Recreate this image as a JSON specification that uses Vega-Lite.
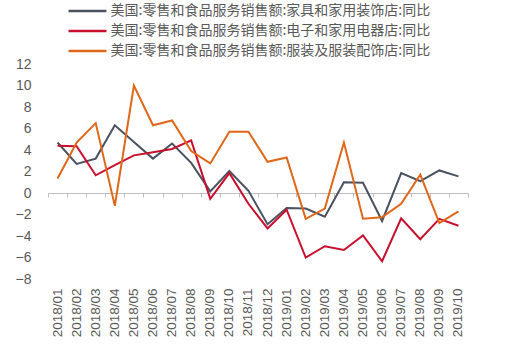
{
  "$schema": "https://vega.github.io/schema/vega-lite/v6.json",
  "width": 420,
  "height": 215,
  "autosize": {"type": "none"},
  "padding": {"left": 48, "top": 64, "right": 38, "bottom": 72},
  "background": "white",
  "config": {
    "view": {"stroke": null},
    "font": "Liberation Sans",
    "axis": {"labelFont": "Liberation Sans", "labelColor": "#595959", "labelFontSize": 14}
  },
  "data": {"values": [
    {"month":"2018/01","series":"美国:零售和食品服务销售额:家具和家用装饰店:同比","value":4.7},
    {"month":"2018/02","series":"美国:零售和食品服务销售额:家具和家用装饰店:同比","value":2.7},
    {"month":"2018/03","series":"美国:零售和食品服务销售额:家具和家用装饰店:同比","value":3.2},
    {"month":"2018/04","series":"美国:零售和食品服务销售额:家具和家用装饰店:同比","value":6.3},
    {"month":"2018/05","series":"美国:零售和食品服务销售额:家具和家用装饰店:同比","value":4.75},
    {"month":"2018/06","series":"美国:零售和食品服务销售额:家具和家用装饰店:同比","value":3.2},
    {"month":"2018/07","series":"美国:零售和食品服务销售额:家具和家用装饰店:同比","value":4.6},
    {"month":"2018/08","series":"美国:零售和食品服务销售额:家具和家用装饰店:同比","value":2.8},
    {"month":"2018/09","series":"美国:零售和食品服务销售额:家具和家用装饰店:同比","value":0.15},
    {"month":"2018/10","series":"美国:零售和食品服务销售额:家具和家用装饰店:同比","value":2.05},
    {"month":"2018/11","series":"美国:零售和食品服务销售额:家具和家用装饰店:同比","value":0.2},
    {"month":"2018/12","series":"美国:零售和食品服务销售额:家具和家用装饰店:同比","value":-2.9},
    {"month":"2019/01","series":"美国:零售和食品服务销售额:家具和家用装饰店:同比","value":-1.4},
    {"month":"2019/02","series":"美国:零售和食品服务销售额:家具和家用装饰店:同比","value":-1.45},
    {"month":"2019/03","series":"美国:零售和食品服务销售额:家具和家用装饰店:同比","value":-2.2},
    {"month":"2019/04","series":"美国:零售和食品服务销售额:家具和家用装饰店:同比","value":1.0},
    {"month":"2019/05","series":"美国:零售和食品服务销售额:家具和家用装饰店:同比","value":0.95},
    {"month":"2019/06","series":"美国:零售和食品服务销售额:家具和家用装饰店:同比","value":-2.6},
    {"month":"2019/07","series":"美国:零售和食品服务销售额:家具和家用装饰店:同比","value":1.85},
    {"month":"2019/08","series":"美国:零售和食品服务销售额:家具和家用装饰店:同比","value":1.1},
    {"month":"2019/09","series":"美国:零售和食品服务销售额:家具和家用装饰店:同比","value":2.1},
    {"month":"2019/10","series":"美国:零售和食品服务销售额:家具和家用装饰店:同比","value":1.55},
    {"month":"2018/01","series":"美国:零售和食品服务销售额:电子和家用电器店:同比","value":4.4},
    {"month":"2018/02","series":"美国:零售和食品服务销售额:电子和家用电器店:同比","value":4.35},
    {"month":"2018/03","series":"美国:零售和食品服务销售额:电子和家用电器店:同比","value":1.65},
    {"month":"2018/04","series":"美国:零售和食品服务销售额:电子和家用电器店:同比","value":2.6},
    {"month":"2018/05","series":"美国:零售和食品服务销售额:电子和家用电器店:同比","value":3.5},
    {"month":"2018/06","series":"美国:零售和食品服务销售额:电子和家用电器店:同比","value":3.8},
    {"month":"2018/07","series":"美国:零售和食品服务销售额:电子和家用电器店:同比","value":4.1},
    {"month":"2018/08","series":"美国:零售和食品服务销售额:电子和家用电器店:同比","value":4.9},
    {"month":"2018/09","series":"美国:零售和食品服务销售额:电子和家用电器店:同比","value":-0.55},
    {"month":"2018/10","series":"美国:零售和食品服务销售额:电子和家用电器店:同比","value":1.85},
    {"month":"2018/11","series":"美国:零售和食品服务销售额:电子和家用电器店:同比","value":-1.0},
    {"month":"2018/12","series":"美国:零售和食品服务销售额:电子和家用电器店:同比","value":-3.3},
    {"month":"2019/01","series":"美国:零售和食品服务销售额:电子和家用电器店:同比","value":-1.55},
    {"month":"2019/02","series":"美国:零售和食品服务销售额:电子和家用电器店:同比","value":-6.0},
    {"month":"2019/03","series":"美国:零售和食品服务销售额:电子和家用电器店:同比","value":-4.95},
    {"month":"2019/04","series":"美国:零售和食品服务销售额:电子和家用电器店:同比","value":-5.3},
    {"month":"2019/05","series":"美国:零售和食品服务销售额:电子和家用电器店:同比","value":-3.95},
    {"month":"2019/06","series":"美国:零售和食品服务销售额:电子和家用电器店:同比","value":-6.35},
    {"month":"2019/07","series":"美国:零售和食品服务销售额:电子和家用电器店:同比","value":-2.35},
    {"month":"2019/08","series":"美国:零售和食品服务销售额:电子和家用电器店:同比","value":-4.3},
    {"month":"2019/09","series":"美国:零售和食品服务销售额:电子和家用电器店:同比","value":-2.4},
    {"month":"2019/10","series":"美国:零售和食品服务销售额:电子和家用电器店:同比","value":-3.05},
    {"month":"2018/01","series":"美国:零售和食品服务销售额:服装及服装配饰店:同比","value":1.35},
    {"month":"2018/02","series":"美国:零售和食品服务销售额:服装及服装配饰店:同比","value":4.7},
    {"month":"2018/03","series":"美国:零售和食品服务销售额:服装及服装配饰店:同比","value":6.5},
    {"month":"2018/04","series":"美国:零售和食品服务销售额:服装及服装配饰店:同比","value":-1.2},
    {"month":"2018/05","series":"美国:零售和食品服务销售额:服装及服装配饰店:同比","value":10.0},
    {"month":"2018/06","series":"美国:零售和食品服务销售额:服装及服装配饰店:同比","value":6.3},
    {"month":"2018/07","series":"美国:零售和食品服务销售额:服装及服装配饰店:同比","value":6.75},
    {"month":"2018/08","series":"美国:零售和食品服务销售额:服装及服装配饰店:同比","value":3.9},
    {"month":"2018/09","series":"美国:零售和食品服务销售额:服装及服装配饰店:同比","value":2.75},
    {"month":"2018/10","series":"美国:零售和食品服务销售额:服装及服装配饰店:同比","value":5.7},
    {"month":"2018/11","series":"美国:零售和食品服务销售额:服装及服装配饰店:同比","value":5.7},
    {"month":"2018/12","series":"美国:零售和食品服务销售额:服装及服装配饰店:同比","value":2.9},
    {"month":"2019/01","series":"美国:零售和食品服务销售额:服装及服装配饰店:同比","value":3.3},
    {"month":"2019/02","series":"美国:零售和食品服务销售额:服装及服装配饰店:同比","value":-2.4},
    {"month":"2019/03","series":"美国:零售和食品服务销售额:服装及服装配饰店:同比","value":-1.45},
    {"month":"2019/04","series":"美国:零售和食品服务销售额:服装及服装配饰店:同比","value":4.7},
    {"month":"2019/05","series":"美国:零售和食品服务销售额:服装及服装配饰店:同比","value":-2.4},
    {"month":"2019/06","series":"美国:零售和食品服务销售额:服装及服装配饰店:同比","value":-2.25},
    {"month":"2019/07","series":"美国:零售和食品服务销售额:服装及服装配饰店:同比","value":-1.0},
    {"month":"2019/08","series":"美国:零售和食品服务销售额:服装及服装配饰店:同比","value":1.7},
    {"month":"2019/09","series":"美国:零售和食品服务销售额:服装及服装配饰店:同比","value":-2.8},
    {"month":"2019/10","series":"美国:零售和食品服务销售额:服装及服装配饰店:同比","value":-1.7}
  ]},
  "encoding": {
    "y": {"field": "value", "type": "quantitative",
      "scale": {"domain": [-8, 12], "nice": false, "zero": false},
      "axis": {"title": null, "domain": false, "ticks": false, "grid": false,
        "values": [-8,-6,-4,-2,0,2,4,6,8,10,12], "labelPadding": 17}}
  },
  "layer": [
    {
      "mark": {"type": "line", "strokeWidth": 2},
      "encoding": {
        "x": {"field": "month", "type": "ordinal",
          "scale": {"type": "band", "paddingInner": 0, "paddingOuter": 0},
          "axis": {"title": null, "orient": "bottom", "domain": true, "domainColor": "#bdbdbd", "domainWidth": 1,
            "ticks": true, "tickColor": "#bdbdbd", "tickSize": 4, "tickBand": "extent",
            "labels": false, "offset": -86}},
        "color": {"field": "series", "type": "nominal",
          "scale": {"domain": [
            "美国:零售和食品服务销售额:家具和家用装饰店:同比",
            "美国:零售和食品服务销售额:电子和家用电器店:同比",
            "美国:零售和食品服务销售额:服装及服装配饰店:同比"],
            "range": ["#4a5260", "#c8102e", "#e0661a"]},
          "legend": {"title": null, "orient": "none", "legendX": 30.5, "legendY": -62,
            "symbolType": "M-2.53,0H2.53", "symbolSize": 225, "symbolStrokeWidth": 2.5,
            "labelFont": "Noto Sans CJK SC", "labelFontSize": 14, "labelColor": "#595959",
            "labelOffset": 14, "rowPadding": 4, "labelLimit": 500}}
      }
    },
    {
      "mark": {"type": "point", "opacity": 0},
      "encoding": {
        "x": {"field": "month", "type": "ordinal",
          "axis": {"title": null, "orient": "bottom", "domain": false, "ticks": false, "labelAngle": 270,
            "labelPadding": 9, "labelFontSize": 13.5}}
      }
    }
  ],
  "resolve": {"axis": {"x": "independent"}}
}
